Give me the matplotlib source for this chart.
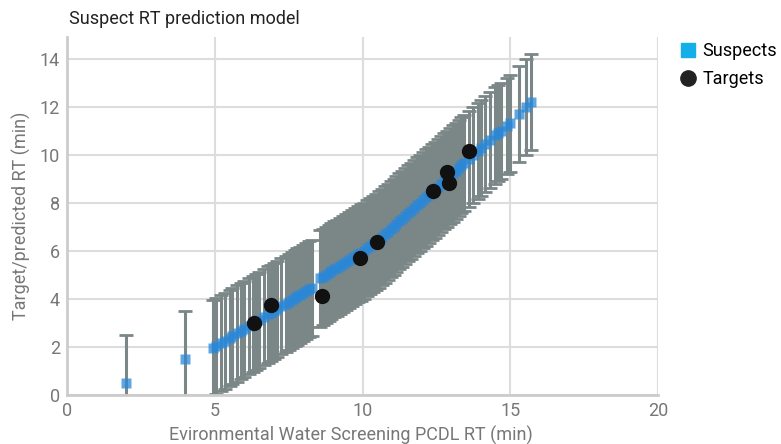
import matplotlib.pyplot as plt
from matplotlib.lines import Line2D

plt.rcParams['font.family'] = ['Roboto', 'DejaVu Sans']

# suspects (predicted RT)
sus_x = [2.0, 4.0,
         4.95, 5.05, 5.2, 5.35, 5.5, 5.6, 5.75, 5.9, 6.0, 6.15, 6.3, 6.4, 6.5, 6.65,
         6.8, 6.9, 7.0, 7.1, 7.25, 7.4, 7.5, 7.6, 7.7, 7.8, 7.9, 8.0, 8.1, 8.2, 8.3,
         8.55, 8.65, 8.75, 8.85, 8.95, 9.05, 9.15, 9.25, 9.35, 9.45, 9.55, 9.65, 9.75,
         9.85, 9.95, 10.05, 10.15, 10.25, 10.35, 10.45, 10.55, 10.65, 10.75, 10.85,
         10.95, 11.05, 11.15, 11.25, 11.35, 11.45, 11.55, 11.65, 11.75, 11.85, 11.95,
         12.05, 12.15, 12.25, 12.35, 12.45, 12.55, 12.65, 12.75, 12.85, 12.95, 13.05,
         13.15, 13.25, 13.35,
         13.45, 13.6, 13.75, 13.9, 14.0, 14.15, 14.3, 14.5, 14.6, 14.7, 14.9, 15.0,
         15.3, 15.55, 15.7]
sus_y = [0.5, 1.5,
         1.96, 2.04, 2.15, 2.26, 2.37, 2.45, 2.56, 2.67, 2.75, 2.86, 2.97, 3.05, 3.12, 3.24,
         3.35, 3.42, 3.5, 3.57, 3.69, 3.8, 3.87, 3.95, 4.02, 4.1, 4.17, 4.25, 4.32, 4.4, 4.47,
         4.85, 4.92, 5.0, 5.07, 5.15, 5.23, 5.3, 5.38, 5.45, 5.53, 5.61, 5.69, 5.77,
         5.85, 5.93, 6.01, 6.1, 6.19, 6.28, 6.37, 6.47, 6.57, 6.68, 6.79,
         6.9, 7.01, 7.12, 7.23, 7.34, 7.45, 7.56, 7.67, 7.78, 7.89, 8.0,
         8.11, 8.22, 8.33, 8.44, 8.55, 8.66, 8.77, 8.89, 9.0, 9.11, 9.22,
         9.34, 9.45, 9.56,
         9.67, 9.84, 10.0, 10.17, 10.28, 10.44, 10.6, 10.8, 10.9, 11.0, 11.2, 11.3,
         11.7, 12.0, 12.2]
sus_err = 2.0

# targets
tgt_x = [6.33, 6.9, 8.63, 9.92, 10.49, 12.39, 12.86, 12.93, 13.6]
tgt_y = [2.98, 3.73, 4.1, 5.7, 6.37, 8.5, 9.3, 8.84, 10.14]

fig = plt.figure(figsize=(7.81, 4.44), dpi=100)
ax = fig.add_axes([0.0858, 0.1104, 0.7567, 0.8063])

ax.errorbar(sus_x, sus_y, yerr=sus_err, fmt='none', ecolor='#7b8787',
            elinewidth=2.2, capsize=5, capthick=2, zorder=2)
ax.plot(sus_x, sus_y, 's', color='#2a88d8', ms=7, alpha=0.75, mec='none', zorder=3)
ax.plot(tgt_x, tgt_y, 'o', color='#111111', ms=10, zorder=4)

ax.set_xlim(0, 20)
ax.set_ylim(0, 14.9)
ax.set_xticks([0, 5, 10, 15, 20])
ax.set_yticks([0, 2, 4, 6, 8, 10, 12, 14])
ax.grid(True, color='#dddddd', linewidth=1.5)
ax.set_axisbelow(True)
for s in ['top', 'right']:
    ax.spines[s].set_visible(False)
for s in ['left', 'bottom']:
    ax.spines[s].set_color('#cccccc')
    ax.spines[s].set_linewidth(2)
ax.tick_params(length=0, labelsize=13, labelcolor='#777777', pad=5)

ax.set_xlabel('Evironmental Water Screening PCDL RT (min)', fontsize=13,
              color='#777777', labelpad=3)
ax.xaxis.set_label_coords(0.48, -0.085)
ax.set_ylabel('Target/predicted RT (min)', fontsize=13, color='#777777', labelpad=6)
fig.text(0.088, 0.945, 'Suspect RT prediction model', fontsize=13, color='#222222')

handles = [Line2D([], [], marker='s', color='#14aee8', ls='none', ms=10),
           Line2D([], [], marker='o', color='#222222', ls='none', ms=11)]
fig.legend(handles, ['Suspects', 'Targets'], loc='upper left',
           bbox_to_anchor=(0.872, 0.905), frameon=False, fontsize=13,
           handletextpad=0.4, labelspacing=0.55, handlelength=0.8,
           borderaxespad=0.0, borderpad=0.0)

fig.savefig('out.png', dpi=100)
